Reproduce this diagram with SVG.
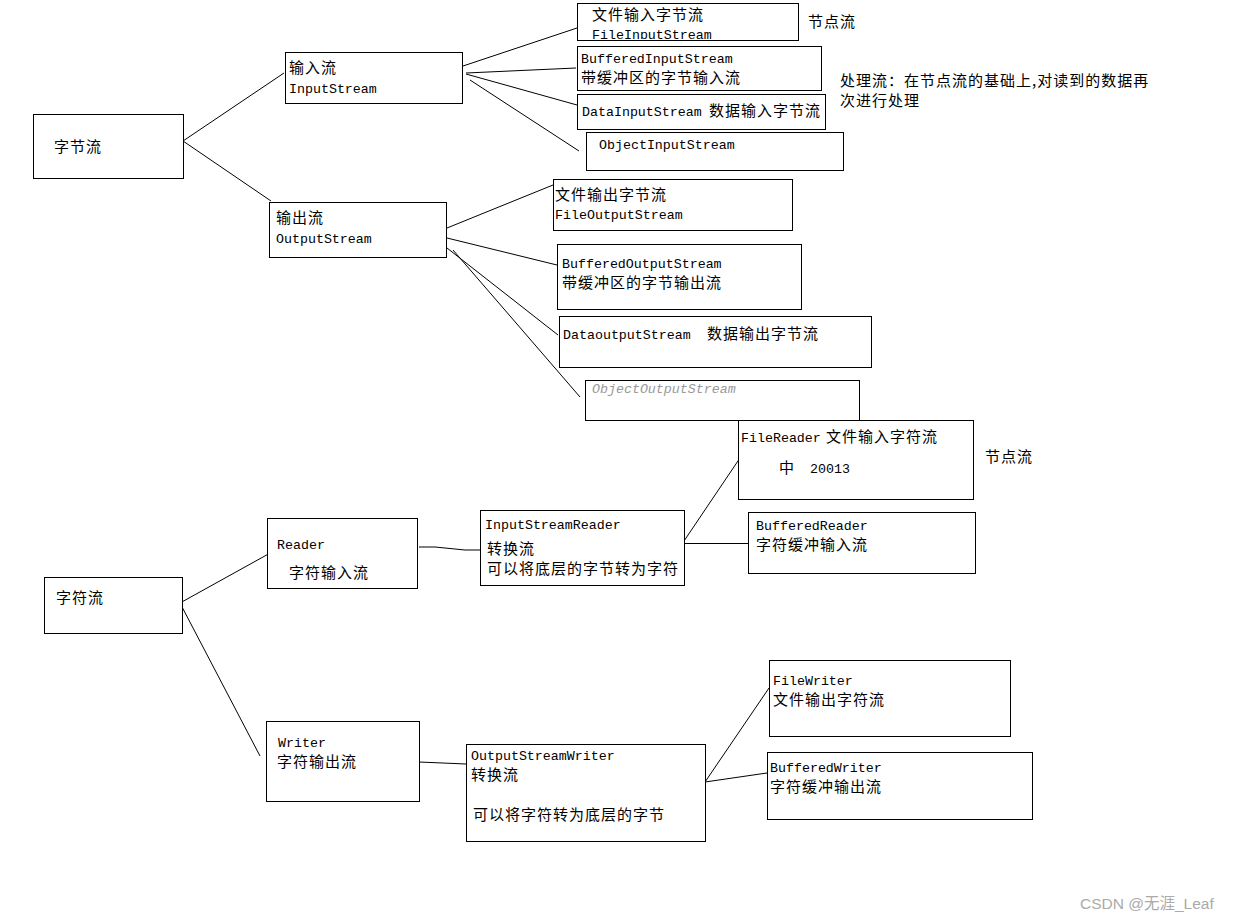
<svg xmlns="http://www.w3.org/2000/svg" width="1233" height="920" viewBox="0 0 1233 920">
<style>
.box{fill:#fff;stroke:#000;stroke-width:1}
.ln{fill:none;stroke:#000;stroke-width:1}
.lat{font-family:"Liberation Mono",monospace;font-size:13.3px;fill:#000}
.cjk{font-family:"Noto Sans CJK SC",sans-serif;font-size:15px;letter-spacing:1px;fill:#000}
.gry{font-family:"Liberation Mono",monospace;font-size:13.3px;font-style:italic;fill:#999}
.wm{font-family:"Liberation Sans","Noto Sans CJK SC",sans-serif;font-size:15.5px;fill:#aaa}
</style>
<defs>
<clipPath id="c1"><rect x="578" y="4" width="219" height="35"/></clipPath>
</defs>
<rect width="1233" height="920" fill="#fff"/>
<g id="connectors">
<line class="ln" x1="183" y1="141" x2="284" y2="73"/>
<line class="ln" x1="183" y1="141" x2="271" y2="201"/>
<line class="ln" x1="463" y1="66" x2="577" y2="28"/>
<line class="ln" x1="466" y1="73" x2="576" y2="68"/>
<line class="ln" x1="466" y1="74" x2="577" y2="105"/>
<line class="ln" x1="470" y1="80" x2="579" y2="151"/>
<line class="ln" x1="447" y1="228" x2="553" y2="185"/>
<line class="ln" x1="447" y1="238" x2="557" y2="265"/>
<line class="ln" x1="447" y1="248" x2="558" y2="335"/>
<line class="ln" x1="453" y1="250" x2="580" y2="397"/>
<line class="ln" x1="180" y1="603" x2="272" y2="552"/>
<line class="ln" x1="181" y1="605" x2="260" y2="756"/>
<polyline class="ln" points="419,547 435,547 465,550 480,550"/>
<line class="ln" x1="684" y1="541" x2="742" y2="455"/>
<line class="ln" x1="684" y1="543.5" x2="748" y2="543.5"/>
<line class="ln" x1="419" y1="762" x2="466" y2="764"/>
<line class="ln" x1="705" y1="782" x2="769" y2="688"/>
<line class="ln" x1="705" y1="782" x2="767" y2="773"/>
</g>
<g id="n-byte">
<rect class="box" x="33.5" y="114.5" width="150" height="64"/>
<text class="cjk" x="54" y="152">字节流</text>
</g>
<g id="n-inputstream">
<rect class="box" x="285.5" y="52.5" width="177" height="51"/>
<text class="cjk" x="289" y="73">输入流</text>
<text class="lat" x="289" y="93">InputStream</text>
</g>
<g id="n-outputstream">
<rect class="box" x="269.5" y="202.5" width="177" height="55"/>
<text class="cjk" x="276" y="223">输出流</text>
<text class="lat" x="276" y="243">OutputStream</text>
</g>
<g id="n-fileinputstream">
<rect class="box" x="577.5" y="3.5" width="221" height="37"/>
<text class="cjk" x="592" y="20">文件输入字节流</text>
<text class="lat" x="592" y="39" clip-path="url(#c1)">FileInputStream</text>
</g>
<g id="n-bufferedinputstream">
<rect class="box" x="577.5" y="46.5" width="244" height="44"/>
<text class="lat" x="581" y="63">BufferedInputStream</text>
<text class="cjk" x="581" y="83">带缓冲区的字节输入流</text>
</g>
<g id="n-datainputstream">
<rect class="box" x="577.5" y="94.5" width="248" height="35"/>
<text class="lat" x="582" y="116">DataInputStream</text>
<text class="cjk" x="709" y="116">数据输入字节流</text>
</g>
<g id="n-objectinputstream">
<rect class="box" x="586.5" y="132.5" width="257" height="38"/>
<text class="lat" x="599" y="149">ObjectInputStream</text>
</g>
<g id="n-label-node1">
<text class="cjk" x="808" y="27">节点流</text>
</g>
<g id="n-label-process">
<text class="cjk" x="840" y="86">处理流：在节点流的基础上,对读到的数据再</text>
<text class="cjk" x="840" y="106">次进行处理</text>
</g>
<g id="n-fileoutputstream">
<rect class="box" x="553.5" y="179.5" width="239" height="51"/>
<text class="cjk" x="555" y="200">文件输出字节流</text>
<text class="lat" x="555" y="219">FileOutputStream</text>
</g>
<g id="n-bufferedoutputstream">
<rect class="box" x="557.5" y="244.5" width="244" height="65"/>
<text class="lat" x="562" y="268">BufferedOutputStream</text>
<text class="cjk" x="562" y="288">带缓冲区的字节输出流</text>
</g>
<g id="n-dataoutputstream">
<rect class="box" x="559.5" y="316.5" width="312" height="51"/>
<text class="lat" x="563" y="339">DataoutputStream</text>
<text class="cjk" x="707" y="339">数据输出字节流</text>
</g>
<g id="n-objectoutputstream">
<rect class="box" x="585.5" y="380.5" width="274" height="40"/>
<text class="gry" x="592" y="393">ObjectOutputStream</text>
</g>
<g id="n-char">
<rect class="box" x="44.5" y="577.5" width="138" height="56"/>
<text class="cjk" x="56" y="603">字符流</text>
</g>
<g id="n-reader">
<rect class="box" x="267.5" y="518.5" width="150" height="70"/>
<text class="lat" x="277" y="549">Reader</text>
<text class="cjk" x="289" y="578">字符输入流</text>
</g>
<g id="n-inputstreamreader">
<rect class="box" x="480.5" y="510.5" width="204" height="75"/>
<text class="lat" x="485" y="529">InputStreamReader</text>
<text class="cjk" x="487" y="554">转换流</text>
<text class="cjk" x="487" y="574">可以将底层的字节转为字符</text>
</g>
<g id="n-filereader">
<rect class="box" x="738.5" y="420.5" width="235" height="79"/>
<text class="lat" x="741" y="442">FileReader</text>
<text class="cjk" x="826" y="442">文件输入字符流</text>
<text class="cjk" x="779" y="473">中</text>
<text class="lat" x="810" y="473">20013</text>
</g>
<g id="n-label-node2">
<text class="cjk" x="985" y="462">节点流</text>
</g>
<g id="n-bufferedreader">
<rect class="box" x="748.5" y="512.5" width="227" height="61"/>
<text class="lat" x="756" y="530">BufferedReader</text>
<text class="cjk" x="756" y="550">字符缓冲输入流</text>
</g>
<g id="n-writer">
<rect class="box" x="266.5" y="721.5" width="153" height="80"/>
<text class="lat" x="278" y="747">Writer</text>
<text class="cjk" x="277" y="767">字符输出流</text>
</g>
<g id="n-outputstreamwriter">
<rect class="box" x="466.5" y="744.5" width="239" height="97"/>
<text class="lat" x="471" y="760">OutputStreamWriter</text>
<text class="cjk" x="471" y="780">转换流</text>
<text class="cjk" x="473" y="820">可以将字符转为底层的字节</text>
</g>
<g id="n-filewriter">
<rect class="box" x="769.5" y="660.5" width="241" height="76"/>
<text class="lat" x="773" y="685">FileWriter</text>
<text class="cjk" x="773" y="705">文件输出字符流</text>
</g>
<g id="n-bufferedwriter">
<rect class="box" x="767.5" y="752.5" width="265" height="67"/>
<text class="lat" x="770" y="772">BufferedWriter</text>
<text class="cjk" x="770" y="792">字符缓冲输出流</text>
</g>
<text class="wm" x="1080" y="909">CSDN @无涯_Leaf</text>
</svg>
